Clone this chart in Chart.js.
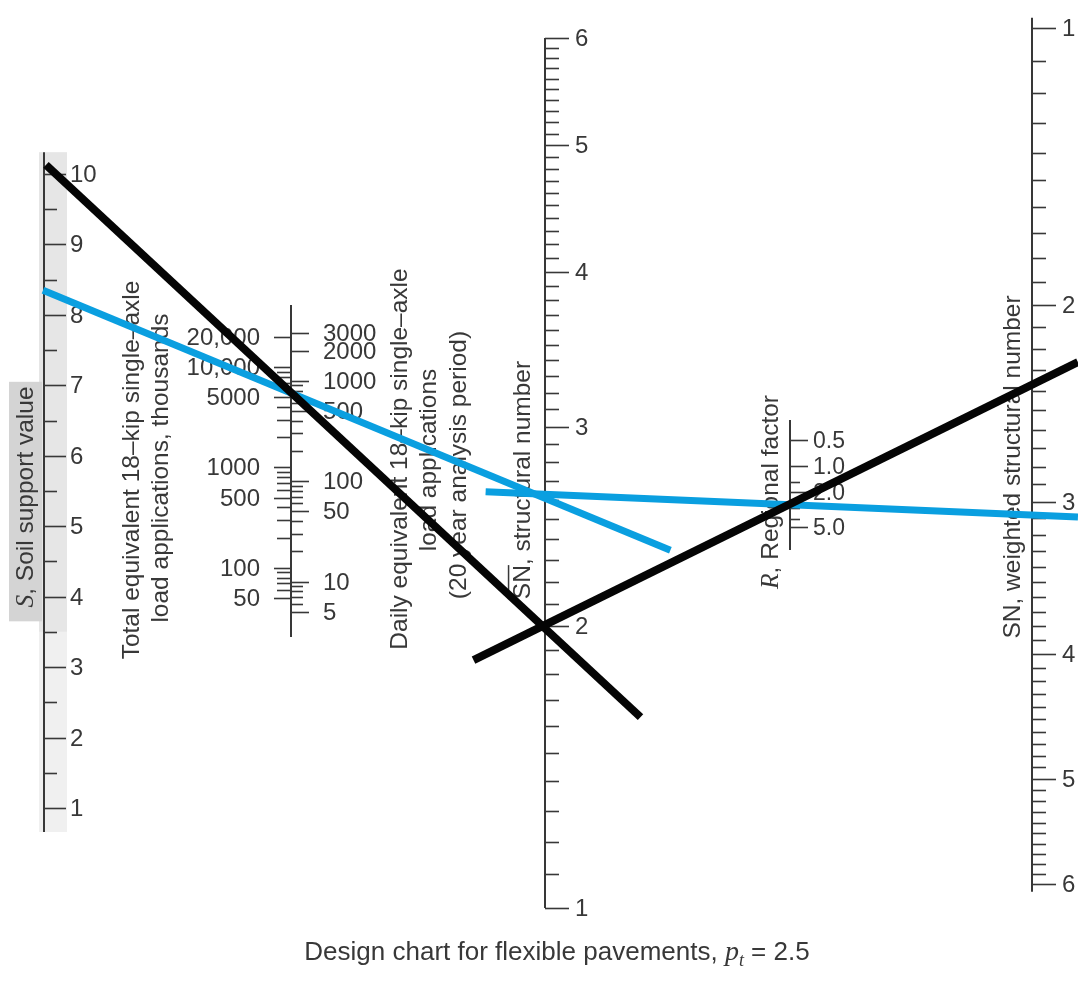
<!DOCTYPE html>
<html>
<head>
<meta charset="utf-8">
<title>Design chart for flexible pavements</title>
<script src="https://cdn.jsdelivr.net/npm/chart.js@4.4.1/dist/chart.umd.min.js"></script>
<style>
  html, body { margin: 0; padding: 0; background: #fff; }
  #wrap { width: 1078px; height: 982px; position: relative; }
</style>
</head>
<body>
<div id="wrap"><canvas id="nomo"></canvas></div>
<script>
// ---- scale values ----
var soilValues = [1, 2, 3, 4, 5, 6, 7, 8, 9, 10];
var totalLoadLabels = [50, 100, 500, 1000, 5000, 10000, 20000];   // thousands
var dailyLoadLabels = [5, 10, 50, 100, 500, 1000, 2000, 3000];
var structuralNumbers = [1, 2, 3, 4, 5, 6];
var regionalFactors = [0.5, 1.0, 2.0, 5.0];
var regionalMinor = [1.5, 3, 4];
var weightedNumbers = [1, 2, 3, 4, 5, 6];

// worked solutions: each end as {station, soil support value}
var blackLine1 = [{x: 0.008, y: 10.13}, {x: 2.415, y: 2.29}];
var blackLine2 = [{x: 1.739, y: 3.10}, {x: 4.186, y: 7.33}];
var blueLine1 = [{x: -0.004, y: 8.35}, {x: 2.536, y: 4.66}];
var blueLine2 = [{x: 1.788, y: 5.49}, {x: 4.186, y: 5.13}];

// daily applications -> total thousands over a 20 year period
var DAYS_FACTOR = 365 * 20 / 1000;

var W = 1078, H = 982;
var FONT = '"Liberation Sans", Arial, sans-serif';
var SERIF = '"Liberation Serif", "Times New Roman", serif';
var INK = '#383838';
var TICK_FONT = '24px ' + FONT;

// value range that puts v1 at pixel p1 and v2 at pixel p2 across the canvas
function fitRange(v1, p1, v2, p2, size, isLog) {
  var f = isLog ? Math.log10 : function(v) { return v; };
  var g = isLog ? function(t) { return Math.pow(10, t); } : function(t) { return t; };
  var k = (f(v2) - f(v1)) / (p2 - p1);
  var a = g(f(v1) - k * p1), b = g(f(v1) + k * (size - p1));
  return {min: Math.min(a, b), max: Math.max(a, b)};
}

var xRange = fitRange(0, 44, 4, 1032, W, false);
var soilRange = fitRange(1, 808, 10, 174, H, false);
var loadRange = fitRange(50, 598, 20000, 337, H, true);
var snRange = fitRange(2, 908, 7, 38, H, true);        // SN + 1
var regionRange = fitRange(0.5, 440, 5, 527, H, true);
var snwRange = fitRange(2, 28, 7, 884, H, true);       // SN + 1

function plusOne(v) { return v + 1; }
function toTotal(v) { return v * DAYS_FACTOR; }

function tenths() {
  var out = [];
  for (var i = 10; i <= 60; i++) if (i % 10) out.push(i / 10);
  return out;
}
function halves() {
  var out = [];
  for (var i = 1; i < 10; i++) out.push(i + 0.5);
  return out;
}
function logMinor(lo, hi, skip) {
  var out = [];
  for (var e = 0; e <= 5; e++) {
    for (var m = 1; m <= 9; m++) {
      var v = m * Math.pow(10, e);
      if (v >= lo && v <= hi && skip.indexOf(v) < 0) out.push(v);
    }
  }
  return out;
}
function withComma(v) {
  return v >= 10000 ? v.toLocaleString('en-US') : String(v);
}

var axisDefs = [
  {scale: 'soil', station: 0, spine: [0.66, 10.31], marks: [
    {values: soilValues, side: 1, len: 22, gap: 4, label: String, font: TICK_FONT},
    {values: halves(), side: 1, len: 13}
  ]},
  {scale: 'load', station: 1, spine: [20.4, 41700], marks: [
    {values: totalLoadLabels, side: -1, len: 17, gap: 14, label: withComma, font: TICK_FONT},
    {values: logMinor(50, 20000, totalLoadLabels), side: -1, len: 14},
    {values: dailyLoadLabels, map: toTotal, side: 1, len: 18, gap: 14, label: String, font: TICK_FONT},
    {values: logMinor(5, 3000, dailyLoadLabels), map: toTotal, side: 1, len: 12}
  ]},
  {scale: 'sn', station: 2.03, map: plusOne, spine: [1, 6], marks: [
    {values: structuralNumbers, side: 1, len: 24, gap: 6, label: String, font: TICK_FONT},
    {values: tenths(), side: 1, len: 14}
  ]},
  {scale: 'region', station: 3.021, spine: [0.295, 9.19], marks: [
    {values: regionalFactors, side: 1, len: 18, gap: 5, label: function(v) { return v.toFixed(1); }, font: '23px ' + FONT},
    {values: regionalMinor, side: 1, len: 10}
  ]},
  {scale: 'snw', station: 4, map: plusOne, spine: [0.97, 6.08], marks: [
    {values: weightedNumbers, side: 1, len: 24, gap: 6, label: String, font: TICK_FONT},
    {values: tenths(), side: 1, len: 14}
  ]}
];

// rotated axis titles: runs of text, centre point
var axisTitles = [
  {cx: 26, cy: 497, runs: [['S', 'italic'], [', Soil support value', '']]},
  {cx: 132, cy: 470, runs: [['Total equivalent 18\u2013kip single\u2013axle', '']]},
  {cx: 161, cy: 468, runs: [['load applications, thousands', '']]},
  {cx: 400, cy: 459, runs: [['Daily equivalent 18\u2013kip single\u2013axle', '']]},
  {cx: 429, cy: 460, runs: [['load applications', '']]},
  {cx: 459, cy: 465, runs: [['(20 year analysis period)', '']]},
  {cx: 523, cy: 480, runs: [['SN', 'over'], [', structural number', '']]},
  {cx: 771, cy: 492, runs: [['R', 'italic'], [', Regional factor', '']]},
  {cx: 1013, cy: 467, runs: [['SN, weighted structural number', '']]}
];
var TITLE_SIZE = 24.5;

function runFont(style, size) {
  return style === 'italic' ? 'italic ' + (size + 1) + 'px ' + SERIF : size + 'px ' + FONT;
}

function drawRuns(ctx, runs, size) {
  var widths = runs.map(function(r) {
    ctx.font = runFont(r[1], size);
    return ctx.measureText(r[0]).width;
  });
  var total = widths.reduce(function(a, b) { return a + b; }, 0);
  var x = -total / 2;
  runs.forEach(function(r, i) {
    ctx.font = runFont(r[1], size);
    ctx.fillText(r[0], x, 0);
    if (r[1] === 'over') {
      ctx.fillRect(x, -size * 0.62, widths[i], 1.5);
    }
    x += widths[i];
  });
}

var nomogramAxes = {
  id: 'nomogramAxes',
  beforeDatasetsDraw: function(chart) {
    var ctx = chart.ctx;
    var xs = chart.scales.x;
    ctx.save();

    // scanned paper strip behind the soil support scale
    var sx = xs.getPixelForValue(0);
    var soil = chart.scales.soil;
    var top = soil.getPixelForValue(10.31), mid = soil.getPixelForValue(3.5), bot = soil.getPixelForValue(0.66);
    ctx.fillStyle = '#e6e6e6';
    ctx.fillRect(sx - 5, top, 28, mid - top);
    ctx.fillStyle = '#f0f0f0';
    ctx.fillRect(sx - 5, mid, 28, bot - mid);
    ctx.fillStyle = '#d4d4d4';
    ctx.fillRect(sx - 35, soil.getPixelForValue(7.05), 33, soil.getPixelForValue(3.65) - soil.getPixelForValue(7.05));

    axisDefs.forEach(function(def) {
      var sc = chart.scales[def.scale];
      var x = Math.round(xs.getPixelForValue(def.station));
      var py = function(v, map) {
        var f = map || def.map;
        return sc.getPixelForValue(f ? f(v) : v);
      };
      ctx.strokeStyle = INK;
      ctx.lineWidth = 2;
      ctx.beginPath();
      ctx.moveTo(x, py(def.spine[0]));
      ctx.lineTo(x, py(def.spine[1]));
      ctx.stroke();

      def.marks.forEach(function(m) {
        ctx.lineWidth = 1.6;
        m.values.forEach(function(v) {
          var y = Math.round(py(v, m.map)) + 0.5;
          ctx.beginPath();
          ctx.moveTo(x, y);
          ctx.lineTo(x + m.side * m.len, y);
          ctx.stroke();
          if (m.label) {
            ctx.fillStyle = INK;
            ctx.font = m.font;
            ctx.textBaseline = 'middle';
            ctx.textAlign = m.side > 0 ? 'left' : 'right';
            ctx.fillText(m.label(v), x + m.side * (m.len + m.gap), y + 1);
          }
        });
      });
    });

    // axis titles
    ctx.fillStyle = INK;
    ctx.textBaseline = 'middle';
    ctx.textAlign = 'left';
    axisTitles.forEach(function(t) {
      ctx.save();
      ctx.translate(t.cx, t.cy);
      ctx.rotate(-Math.PI / 2);
      drawRuns(ctx, t.runs, TITLE_SIZE);
      ctx.restore();
    });

    // caption
    ctx.textBaseline = 'alphabetic';
    var parts = [['Design chart for flexible pavements, ', '26px ' + FONT, 0],
                 ['p', 'italic 28px ' + SERIF, 0],
                 ['t', 'italic 18px ' + SERIF, 6],
                 [' = 2.5', '26px ' + FONT, 0]];
    var total = 0;
    parts.forEach(function(p) { ctx.font = p[1]; p.w = ctx.measureText(p[0]).width; total += p.w; });
    var cx = 557 - total / 2;
    parts.forEach(function(p) {
      ctx.font = p[1];
      ctx.fillText(p[0], cx, 960 + p[2]);
      cx += p.w;
    });
    ctx.restore();
  }
};

function solution(data, color, width) {
  return {
    data: data,
    xAxisID: 'x',
    yAxisID: 'soil',
    borderColor: color,
    borderWidth: width,
    borderCapStyle: 'butt',
    pointRadius: 0,
    fill: false,
    tension: 0
  };
}

function hiddenAxis(type, axis, range, reverse) {
  return {type: type, axis: axis, display: false, min: range.min, max: range.max, reverse: !!reverse, bounds: 'data'};
}

new Chart(document.getElementById('nomo').getContext('2d'), {
  type: 'line',
  data: {
    datasets: [
      solution(blackLine1, '#050505', 8),
      solution(blackLine2, '#050505', 8),
      solution(blueLine1, '#0a9fe0', 7),
      solution(blueLine2, '#0a9fe0', 7)
    ]
  },
  options: {
    responsive: true,
    maintainAspectRatio: false,
    animation: false,
    events: [],
    layout: {padding: 0},
    plugins: {legend: {display: false}, tooltip: {enabled: false}, title: {display: false}},
    scales: {
      x: hiddenAxis('linear', 'x', xRange),
      soil: hiddenAxis('linear', 'y', soilRange),
      load: hiddenAxis('logarithmic', 'y', loadRange),
      sn: hiddenAxis('logarithmic', 'y', snRange),
      region: hiddenAxis('logarithmic', 'y', regionRange, true),
      snw: hiddenAxis('logarithmic', 'y', snwRange, true)
    }
  },
  plugins: [nomogramAxes]
});
</script>
</body>
</html>
